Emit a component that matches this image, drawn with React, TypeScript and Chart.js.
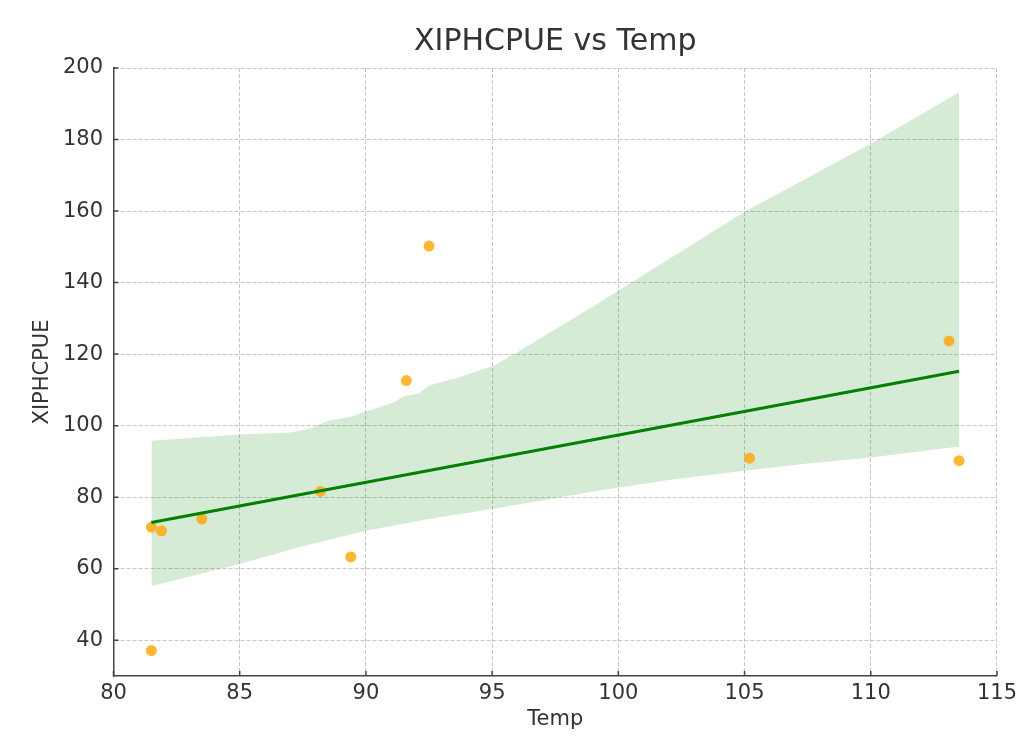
import React, { useEffect, useRef } from "react";
import { Chart, registerables } from "chart.js";

Chart.register(...registerables);

// Observed data (Temp vs XIPHCPUE)
const tempValues = [81.5, 81.9, 83.5, 88.2, 89.4, 81.5, 91.6, 92.5, 105.2, 113.1, 113.5];
const cpueValues = [71.6, 70.6, 73.9, 81.6, 63.3, 37.1, 112.6, 150.2, 90.9, 123.7, 90.2];

// Fitted regression line end points
const fitX = [81.5, 113.5];
const fitY = [72.9, 115.2];

// Confidence band edges
const bandUpperX = [81.5, 85.0, 87.0, 87.8, 88.5, 89.3, 90.1, 91.1, 91.5, 92.1, 92.5, 93.7, 95.1, 96.0, 99.2, 105.0, 110.0, 113.5];
const bandUpperY = [95.8, 97.5, 98.1, 99.2, 101.4, 102.3, 104.2, 106.5, 108.2, 109.0, 111.2, 113.5, 116.9, 120.5, 134.2, 159.8, 178.8, 193.2];
const bandLowerX = [81.5, 85.0, 87.5, 90.0, 92.5, 95.0, 99.2, 102.0, 105.0, 107.5, 110.0, 113.5];
const bandLowerY = [55.1, 61.3, 66.3, 70.6, 73.9, 76.7, 81.8, 84.8, 87.4, 89.4, 91.1, 94.2];

// Tick labels
const xTicks = [80, 85, 90, 95, 100, 105, 110, 115];
const yTicks = [40, 60, 80, 100, 120, 140, 160, 180, 200];

const FONT = "'DejaVu Sans', 'Liberation Sans', sans-serif";
const TEXT = "#333333";
const SPINE = "#444444";
const GRID = "rgba(180,180,180,0.75)";

const pts = (xs: number[], ys: number[]) => xs.map((x, i) => ({ x, y: ys[i] }));

const innerTicks = {
  id: "innerTicks",
  afterDraw(chart: any) {
    const { ctx, scales } = chart;
    const xs = scales.x;
    const ys = scales.y;
    ctx.save();
    ctx.strokeStyle = SPINE;
    ctx.lineWidth = 1.5;
    ctx.beginPath();
    xTicks.forEach((v) => {
      const px = xs.getPixelForValue(v);
      ctx.moveTo(px, ys.bottom);
      ctx.lineTo(px, ys.bottom - 5);
    });
    yTicks.forEach((v) => {
      const py = ys.getPixelForValue(v);
      ctx.moveTo(xs.left, py);
      ctx.lineTo(xs.left + 5, py);
    });
    ctx.stroke();
    ctx.restore();
  },
};

export default function App() {
  const ref = useRef<HTMLCanvasElement | null>(null);

  useEffect(() => {
    if (!ref.current) return;
    const chart = new Chart(ref.current, {
      type: "line",
      data: {
        datasets: [
          {
            type: "line",
            label: "fit",
            data: pts(fitX, fitY),
            borderColor: "#008000",
            borderWidth: 3,
            pointRadius: 0,
            fill: false,
            order: 0,
          },
          {
            type: "scatter",
            label: "obs",
            data: pts(tempValues, cpueValues),
            backgroundColor: "rgba(255,165,0,0.8)",
            borderWidth: 0,
            pointRadius: 5.5,
            order: 1,
          },
          {
            type: "line",
            label: "upper",
            data: pts(bandUpperX, bandUpperY),
            borderColor: "rgba(0,0,0,0)",
            borderWidth: 0,
            pointRadius: 0,
            backgroundColor: "rgba(0,128,0,0.16)",
            fill: "+1",
            order: 2,
          },
          {
            type: "line",
            label: "lower",
            data: pts(bandLowerX, bandLowerY),
            borderColor: "rgba(0,0,0,0)",
            borderWidth: 0,
            pointRadius: 0,
            fill: false,
            order: 3,
          },
        ],
      },
      options: {
        responsive: false,
        animation: false,
        devicePixelRatio: 1,
        layout: { padding: { left: 0, right: 22, top: 0, bottom: 0 } },
        plugins: {
          legend: { display: false },
          tooltip: { enabled: false },
          title: {
            display: true,
            text: "XIPHCPUE vs Temp",
            fullSize: false,
            color: TEXT,
            font: { family: FONT, size: 30, weight: "normal" },
            padding: { top: 24, bottom: 8 },
          },
        },
        scales: {
          x: {
            type: "linear",
            min: 80,
            max: 115,
            afterBuildTicks: (s: any) => {
              s.ticks = xTicks.map((v) => ({ value: v }));
            },
            afterFit: (s: any) => {
              s.height = 62;
            },
            ticks: {
              color: TEXT,
              font: { family: FONT, size: 21 },
              padding: 5,
              maxRotation: 0,
              autoSkip: false,
            },
            grid: {
              color: GRID,
              lineWidth: 1,
              drawTicks: false,
            },
            border: { display: true, color: SPINE, width: 1.5, dash: [4, 2] as any },
            title: {
              display: true,
              text: "Temp",
              color: TEXT,
              font: { family: FONT, size: 21 },
              padding: { top: 0, bottom: 6 },
            },
          },
          y: {
            type: "linear",
            min: 30,
            max: 200,
            afterBuildTicks: (s: any) => {
              s.ticks = yTicks.map((v) => ({ value: v }));
            },
            afterFit: (s: any) => {
              s.width = 113.5;
            },
            ticks: {
              color: TEXT,
              font: { family: FONT, size: 21 },
              padding: 10.5,
              autoSkip: false,
            },
            grid: {
              color: GRID,
              lineWidth: 1,
              drawTicks: false,
            },
            border: { display: true, color: SPINE, width: 1.5, dash: [4, 2] as any },
            title: {
              display: true,
              text: "XIPHCPUE",
              color: TEXT,
              font: { family: FONT, size: 21 },
              padding: { top: 30, bottom: 0 },
            },
          },
        },
      },
      plugins: [innerTicks],
    });
    return () => chart.destroy();
  }, []);

  return (
    <div style={{ position: "fixed", left: 0, top: 0, width: 1022, height: 738, background: "#fff" }}>
      <canvas ref={ref} width={1022} height={738} style={{ display: "block" }} />
    </div>
  );
}
